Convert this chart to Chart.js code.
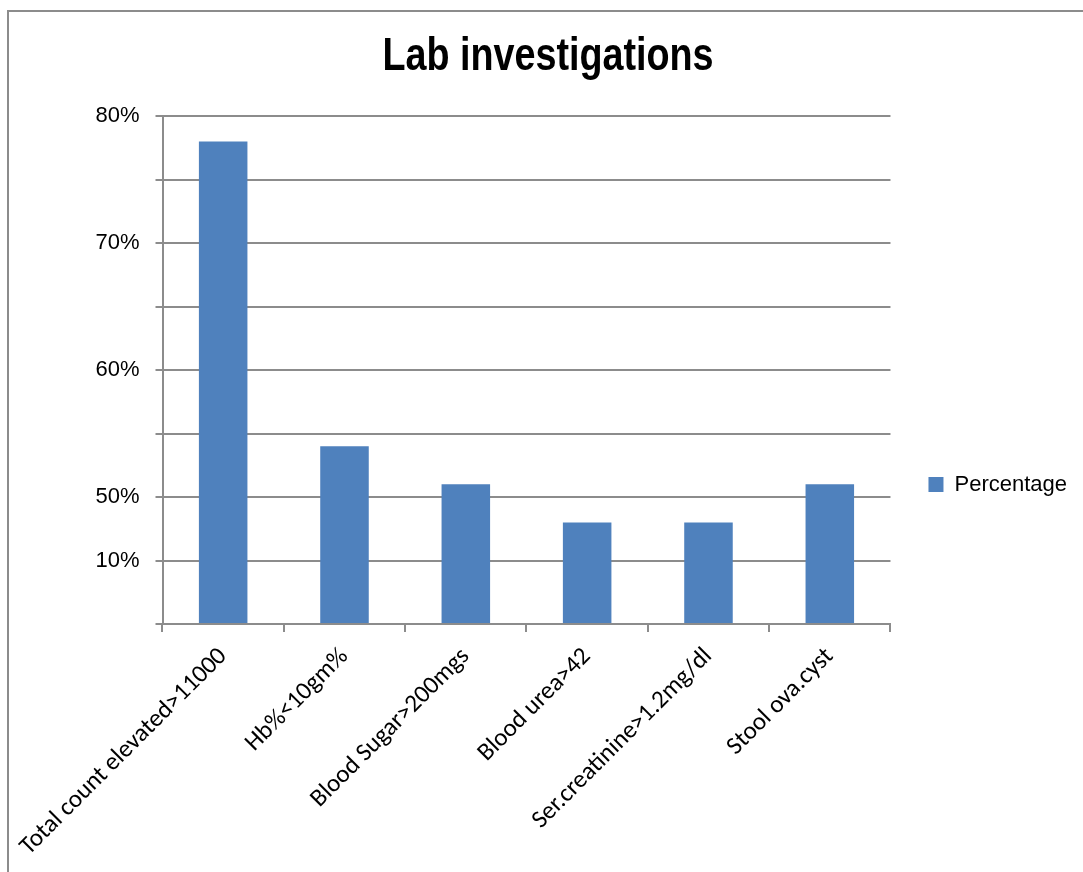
<!DOCTYPE html>
<html>
<head>
<meta charset="utf-8">
<title>Lab investigations</title>
<script src="https://cdn.jsdelivr.net/npm/chart.js@4.4.1/dist/chart.umd.min.js"></script>
<style>
  html, body { margin: 0; padding: 0; background: #ffffff; overflow: hidden; }
  #wrap { position: relative; width: 1083px; height: 872px; overflow: hidden; }
  /* sheet frame: only its top and left edges fall inside the page */
  #frame { position: absolute; left: 7px; top: 10px; width: 1300px; height: 1100px;
           border-top: 2px solid #8c8c8c; border-left: 2px solid #8c8c8c; }
  #chart { position: absolute; left: 0; top: 0; }
</style>
</head>
<body>
<div id="wrap">
  <div id="frame"></div>
  <canvas id="chart" width="1083" height="872"></canvas>
</div>
<script>
// Categories along the x axis
const categories = [
  'Total count elevated>11000',
  'Hb%<10gm%',
  'Blood Sugar>200mgs',
  'Blood urea>42',
  'Ser.creatinine>1.2mg/dl',
  'Stool ova.cyst'
];

// Bar heights, in gridline units (one gridline = 10)
const percentage = [76, 28, 22, 16, 16, 22];

// Labels printed beside the y gridlines, bottom to top
const yTickLabels = ['', '10%', '50%', '', '60%', '', '70%', '', '80%'];

const seriesName = 'Percentage';
const chartTitle = 'Lab investigations';

const AXIS_GREY = '#8c8c8c';
const BAR_BLUE = '#4f81bd';
const SANS = "'Liberation Sans', Arial, sans-serif";
const LABEL_FONT = "Carlito, Calibri, Lato, sans-serif";

// Draws the title block horizontally condensed, like a narrow bold face
const condensedTitle = {
  id: 'condensedTitle',
  afterLayout(chart, args, opts) {
    const block = chart.titleBlock;
    if (!block || block._condensed) return;
    const draw = block.draw.bind(block);
    block.draw = function () {
      const ctx = chart.ctx;
      const cx = (block.left + block.right) / 2;
      ctx.save();
      ctx.translate(cx, 0);
      ctx.scale(opts.factor, 1);
      ctx.translate(-cx, 0);
      draw();
      ctx.restore();
    };
    block._condensed = true;
  }
};

new Chart(document.getElementById('chart'), {
  type: 'bar',
  data: {
    labels: categories,
    datasets: [{
      label: seriesName,
      data: percentage,
      backgroundColor: BAR_BLUE,
      borderWidth: 0,
      barPercentage: 0.4,
      categoryPercentage: 1
    }]
  },
  plugins: [condensedTitle],
  options: {
    responsive: false,
    animation: false,
    devicePixelRatio: 1,
    layout: { padding: { left: 19, right: 6, top: 0, bottom: 0 } },
    plugins: {
      condensedTitle: { factor: 0.82 },
      title: {
        display: true,
        text: chartTitle,
        color: '#000000',
        font: { family: SANS, size: 46, weight: 'bold', lineHeight: 1.2 },
        padding: { top: 30, bottom: 31 }
      },
      legend: {
        position: 'right',
        align: 'center',
        // empty spacer title pushes the single entry down the side panel
        title: { display: true, text: '', font: { size: 10, lineHeight: 1.2 }, padding: { top: 85, bottom: 0 } },
        labels: {
          boxWidth: 15,
          boxHeight: 15,
          padding: 38,
          color: '#000000',
          font: { family: SANS, size: 22 }
        }
      },
      tooltip: { enabled: false }
    },
    scales: {
      x: {
        grid: {
          display: true,
          drawOnChartArea: false,
          drawTicks: true,
          tickLength: 8,
          offset: true,
          color: AXIS_GREY,
          lineWidth: 2
        },
        border: { display: true, color: AXIS_GREY, width: 2 },
        ticks: {
          autoSkip: false,
          minRotation: 45,
          maxRotation: 45,
          padding: 10,
          color: '#000000',
          font: { family: LABEL_FONT, size: 25 }
        },
        afterFit(scale) {
          scale.height = 248;
          scale.paddingLeft = 0;
          scale.paddingRight = 0;
        }
      },
      y: {
        min: 0,
        max: 80,
        ticks: {
          stepSize: 10,
          padding: 16,
          color: '#000000',
          font: { family: SANS, size: 22 },
          callback: (value, index) => yTickLabels[index]
        },
        grid: {
          color: AXIS_GREY,
          lineWidth: 2,
          drawTicks: true,
          tickLength: 7
        },
        border: { display: true, color: AXIS_GREY, width: 2 },
        afterFit(scale) {
          scale.width = 143.5;
          scale.paddingTop = 0;
          scale.paddingBottom = 0;
        }
      }
    }
  }
});
</script>
</body>
</html>
